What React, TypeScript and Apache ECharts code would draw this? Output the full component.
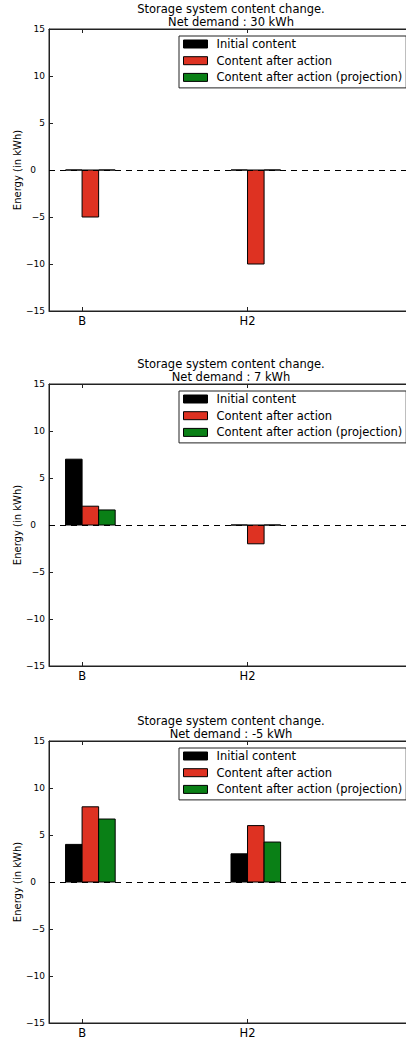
import React, { useEffect, useRef } from "react";
import * as echarts from "echarts";

const categories = ["B", "H2"];
const seriesNames = ["Initial content", "Content after action", "Content after action (projection)"];
const seriesColors = ["#000000", "#DE3222", "#0A8016"];
const netDemands = [30, 7, -5];

const initial1 = [0, 0];
const after1 = [-5, -10];
const proj1 = [0, 0];

const initial2 = [7, 0];
const after2 = [2, -2];
const proj2 = [1.6, 0];

const initial3 = [4, 3];
const after3 = [8, 6];
const proj3 = [6.7, 4.25];

const panels = [
  [initial1, after1, proj1],
  [initial2, after2, proj2],
  [initial3, after3, proj3],
];

const yTicks = [-15, -10, -5, 0, 5, 10, 15];

const FONT = "DejaVu Sans";
const gridTops = [29, 384, 741];
const gridHeight = 282;
const gridLeft = 49;
const gridWidth = 364;
const barWidth = 0.1;
const barOffsets = [-0.1, 0, 0.1];
const xMin = -0.2;
const xMax = 2.0;

export default function App() {
  const ref = useRef<HTMLDivElement>(null);
  useEffect(() => {
    if (!ref.current) return;
    const chart = echarts.init(ref.current, null, { renderer: "svg" });

    const grids: any[] = [];
    const xAxes: any[] = [];
    const yAxes: any[] = [];
    const titles: any[] = [];
    const legends: any[] = [];
    const series: any[] = [];

    panels.forEach((panel, i) => {
      const top = gridTops[i];
      grids.push({
        left: gridLeft,
        top,
        width: gridWidth,
        height: gridHeight,
        containLabel: false,
        outerBoundsMode: "none",
        show: true,
        borderColor: "#222",
        borderWidth: 1,
        backgroundColor: "transparent",
      });
      xAxes.push({
        type: "value",
        gridIndex: i,
        min: xMin,
        max: xMax,
        position: "bottom",
        axisLine: { show: true, onZero: false, lineStyle: { color: "#222", width: 1 } },
        axisTick: {
          show: true,
          inside: true,
          length: 4,
          customValues: categories.map((_, k) => k),
          lineStyle: { color: "#222" },
        },
        axisLabel: {
          show: true,
          customValues: categories.map((_, k) => k),
          formatter: (v: number) => categories[Math.round(v)] ?? "",
          fontFamily: FONT,
          fontSize: 11.5,
          color: "#000",
          margin: 4,
        },
        splitLine: { show: false },
      });
      xAxes.push({
        type: "value",
        gridIndex: i,
        min: xMin,
        max: xMax,
        position: "top",
        axisLine: { show: true, onZero: false, lineStyle: { color: "#222", width: 1 } },
        axisTick: {
          show: true,
          inside: true,
          length: 4,
          customValues: categories.map((_, k) => k),
          lineStyle: { color: "#222" },
        },
        axisLabel: { show: false },
        splitLine: { show: false },
      });
      yAxes.push({
        type: "value",
        gridIndex: i,
        min: yTicks[0],
        max: yTicks[yTicks.length - 1],
        interval: 5,
        name: "Energy (in kWh)",
        nameLocation: "middle",
        nameGap: 27,
        nameMoveOverlap: false,
        nameTextStyle: { fontFamily: FONT, fontSize: 10, color: "#000" },
        axisLine: { show: true, onZero: false, lineStyle: { color: "#222", width: 1 } },
        axisTick: { show: true, inside: true, length: 4, lineStyle: { color: "#222" } },
        axisLabel: {
          fontFamily: FONT,
          fontSize: 9,
          color: "#000",
          margin: 4,
          formatter: (v: number) => (v === 0 ? "{z|0}" : String(v).replace("-", "\u2212")),
          rich: { z: { fontFamily: FONT, fontSize: 9, color: "#000", padding: [0, 9, 0, 0] } },
        },
        splitLine: { show: false },
      });
      titles.push({
        text: "Storage system content change.\nNet demand : " + netDemands[i] + " kWh",
        left: 231,
        textAlign: "center",
        top: top - 27,
        padding: 0,
        textStyle: {
          fontFamily: FONT,
          fontSize: 11.5,
          fontWeight: "normal",
          color: "#000",
          lineHeight: 13,
        },
      });
      legends.push({
        data: seriesNames,
        orient: "vertical",
        left: 179,
        top: top + 7,
        padding: [1, 4, 3.5, 4],
        itemGap: 2.7,
        itemWidth: 24,
        itemHeight: 8,
        icon: "rect",
        borderColor: "#222",
        borderWidth: 1,
        borderRadius: 0,
        backgroundColor: "#fff",
        selectedMode: false,
        itemStyle: { borderColor: "#000", borderWidth: 1 },
        textStyle: {
          fontFamily: FONT,
          fontSize: 11.5,
          color: "#000",
          lineHeight: 14,
          padding: [0, 0, 0, 4],
        },
      });
      panel.forEach((values, s) => {
        const offset = barOffsets[s];
        const color = seriesColors[s];
        const ser: any = {
          type: "custom",
          name: seriesNames[s],
          xAxisIndex: i * 2,
          yAxisIndex: i,
          itemStyle: { color },
          encode: { x: 0, y: 1 },
          data: values.map((v, k) => [k, v]),
          z: 3,
          renderItem: (params: any, api: any) => {
            const x = api.value(0) + offset;
            const v = api.value(1);
            const p0 = api.coord([x, 0]);
            const p1 = api.coord([x + barWidth, v]);
            return {
              type: "rect",
              shape: {
                x: p0[0],
                y: Math.min(p0[1], p1[1]),
                width: p1[0] - p0[0],
                height: Math.abs(p1[1] - p0[1]),
              },
              style: { fill: color, stroke: "#000", lineWidth: 1 },
            };
          },
        };
        series.push(ser);
      });
      series.push({
        type: "line",
        name: "zero" + i,
        xAxisIndex: i * 2,
        yAxisIndex: i,
        data: [],
        z: 2,
        markLine: {
          silent: true,
          symbol: "none",
          label: { show: false },
          lineStyle: { type: [6, 5], color: "#000", width: 1 },
          data: [{ yAxis: 0 }],
        },
      });
    });

    chart.setOption({
      animation: false,
      backgroundColor: "#fff",
      title: titles,
      legend: legends,
      grid: grids,
      xAxis: xAxes,
      yAxis: yAxes,
      series,
    });
    return () => chart.dispose();
  }, []);

  return (
    <div
      style={{
        position: "absolute",
        left: 0,
        top: 0,
        width: 406,
        height: 1040,
        overflow: "hidden",
        background: "#fff",
      }}
    >
      <div ref={ref} style={{ width: 420, height: 1040 }} />
    </div>
  );
}
